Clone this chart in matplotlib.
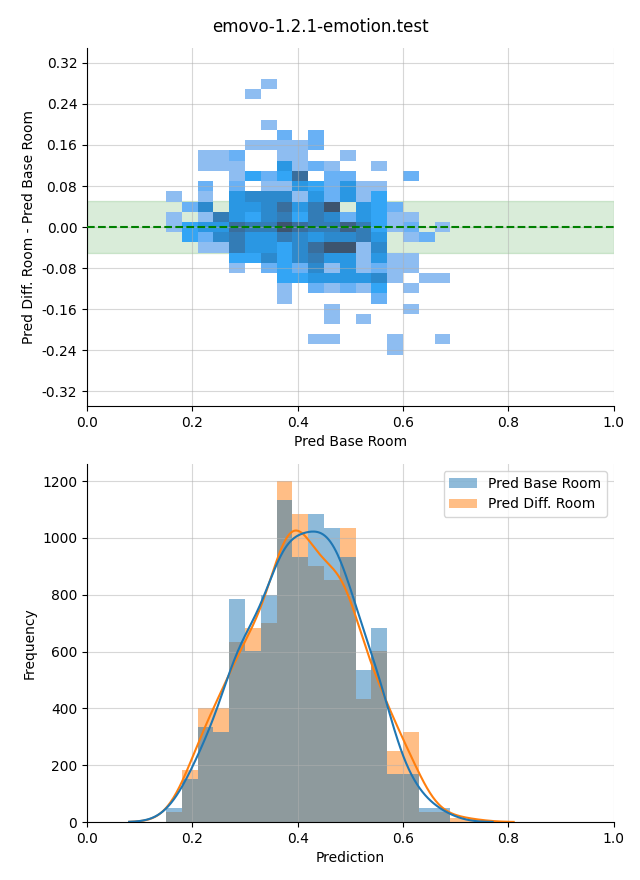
import numpy as np
import matplotlib
matplotlib.use("Agg")
import matplotlib.pyplot as plt
import matplotlib.colors as mcolors
from matplotlib.patches import Patch

title = "emovo-1.2.1-emotion.test"

# ---- shared x bins ----
bin_start = 0.150
bin_width = 0.030

# ---- bottom histogram counts (per bin) ----
base_counts = [49, 151, 334, 317, 785, 602, 799, 1134, 934, 1084, 1035, 934, 535, 683, 170, 170, 49, 49, 0, 0]
diff_counts = [35, 183, 401, 401, 634, 683, 700, 1200, 1084, 902, 853, 1035, 434, 602, 250, 317, 35, 35, 15, 12]
base_kde_range = (0.08, 0.77)
diff_kde_range = (0.08, 0.81)
kde_bw = 0.033

# ---- top 2D histogram (rows from +14 down to -12, 18 columns) ----
diff_bin_height = 0.0199
row_top = 14
counts_2d = [
    [0,0,0,0,0,0,1,0,0,0,0,0,0,0,0,0,0,0],  # 14
    [0,0,0,0,0,1,0,0,0,0,0,0,0,0,0,0,0,0],  # 13
    [0,0,0,0,0,0,0,0,0,0,0,0,0,0,0,0,0,0],  # 12
    [0,0,0,0,0,0,0,0,0,0,0,0,0,0,0,0,0,0],  # 11
    [0,0,0,0,0,0,1,0,0,0,0,0,0,0,0,0,0,0],  # 10
    [0,0,0,0,0,0,0,2,0,2,0,0,0,0,0,0,0,0],  # 9
    [0,0,0,0,0,1,1,1,1,2,0,0,0,0,0,0,0,0],  # 8
    [0,0,1,1,2,0,0,1,1,0,0,1,0,0,0,0,0,0],  # 7
    [0,0,1,1,1,0,0,4,1,2,1,0,0,1,0,0,0,0],  # 6
    [0,0,0,0,1,3,2,3,7,0,2,2,0,0,0,2,0,0],  # 5
    [0,0,2,0,2,0,1,1,4,3,2,4,1,1,0,0,0,0],  # 4
    [1,0,1,0,4,5,5,5,1,4,2,4,1,3,0,0,0,0],  # 3
    [0,2,5,0,4,4,5,7,4,6,9,0,4,3,2,0,0,0],  # 2
    [1,0,1,6,4,3,5,6,3,6,5,2,4,3,1,1,0,0],  # 1
    [1,3,4,4,7,6,6,9,7,6,6,8,6,3,1,2,0,1],  # 0
    [0,3,2,5,6,4,4,6,5,4,5,5,6,4,0,1,2,0],  # -1
    [0,0,1,1,6,4,4,3,5,7,9,9,1,5,0,0,0,0],  # -2
    [0,0,0,0,3,3,5,3,5,6,4,4,1,4,1,1,0,0],  # -3
    [0,0,0,0,1,0,2,3,2,5,1,4,1,2,1,1,0,0],  # -4
    [0,0,0,0,0,0,0,3,3,4,4,4,4,5,1,0,1,1],  # -5
    [0,0,0,0,0,0,0,1,0,2,1,2,1,3,0,1,0,0],  # -6
    [0,0,0,0,0,0,0,1,0,0,0,0,0,2,0,0,0,0],  # -7
    [0,0,0,0,0,0,0,0,0,0,1,0,0,0,0,1,0,0],  # -8
    [0,0,0,0,0,0,0,0,0,0,1,0,1,0,0,0,0,0],  # -9
    [0,0,0,0,0,0,0,0,0,0,0,0,0,0,0,0,0,0],  # -10
    [0,0,0,0,0,0,0,0,0,1,1,0,0,0,1,0,0,1],  # -11
    [0,0,0,0,0,0,0,0,0,0,0,0,0,0,1,0,0,0],  # -12
]

band_half = 0.05
x_label_top = "Pred Base Room"
y_label_top = "Pred Diff. Room - Pred Base Room"
x_label_bottom = "Prediction"
y_label_bottom = "Frequency"
legend_labels = ["Pred Base Room", "Pred Diff. Room"]

C0 = "#1f77b4"
C1 = "#ff7f0e"


def cmap_from_color(color):
    try:
        from seaborn.external import husl
        r, g, b, _ = mcolors.to_rgba(color)
        h, s, _ = husl.rgb_to_husl(r, g, b)
        xx = np.linspace(-1, 1, int(1.15 * 256))[:256]
        ramp = np.zeros((256, 3))
        ramp[:, 0] = h
        ramp[:, 1] = s * np.cos(xx)
        ramp[:, 2] = np.linspace(35, 80, 256)
        cols = np.clip([husl.husl_to_rgb(*hsl) for hsl in ramp], 0, 1)
        return mcolors.ListedColormap(cols[::-1])
    except Exception:
        return mcolors.LinearSegmentedColormap.from_list("c", ["#a8c8ee", "#2e9ef0", "#3d4f6a"])


fig = plt.figure(figsize=(6.4, 8.8), dpi=100)
fig.suptitle(title, y=0.969, va="center", fontsize=12)

# ---------------- top ----------------
ax1 = fig.add_axes([0.136, 0.5386, 0.823, 0.4068])
arr = np.array(counts_2d, dtype=float)[::-1]
n_rows, n_cols = arr.shape
x_edges = bin_start + bin_width * np.arange(n_cols + 1)
row_bottom = row_top - n_rows + 1
y_edges = (np.arange(row_bottom, row_top + 2) - 0.5) * diff_bin_height
masked = np.ma.masked_less_equal(arr, 0)
ax1.axhspan(-band_half, band_half, color="green", alpha=0.15, zorder=0.5)
ax1.pcolormesh(x_edges, y_edges, masked, cmap=cmap_from_color(C0),
               vmin=0, vmax=arr.max(), zorder=1)
ax1.axhline(0, color="green", linestyle="--", linewidth=1.5, zorder=3)
ax1.set_xlim(0, 1)
ax1.set_ylim(-0.349, 0.349)
ax1.set_yticks(np.round(np.arange(-0.32, 0.33, 0.08), 2))
ax1.yaxis.set_major_formatter(matplotlib.ticker.FormatStrFormatter("%.2f"))
ax1.grid(True, alpha=0.5)
ax1.set_xlabel(x_label_top)
ax1.set_ylabel(y_label_top)
for sp in ("top", "right"):
    ax1.spines[sp].set_visible(False)

# ---------------- bottom ----------------
ax2 = fig.add_axes([0.136, 0.0659, 0.823, 0.4068])
nb = len(base_counts)
edges = bin_start + bin_width * np.arange(nb + 1)
centers = edges[:-1] + bin_width / 2

ax2.bar(centers, diff_counts, width=bin_width, color=C1, alpha=0.5, linewidth=0)
ax2.bar(centers, base_counts, width=bin_width, color=C0, alpha=0.5, linewidth=0)


def kde_curve(counts, rng):
    w = np.asarray(counts, float)
    xs = np.linspace(rng[0], rng[1], 400)
    dens = np.zeros_like(xs)
    for c, wi in zip(centers, w):
        dens += wi * np.exp(-0.5 * ((xs - c) / kde_bw) ** 2) / (kde_bw * np.sqrt(2 * np.pi))
    dens /= w.sum()
    return xs, dens * w.sum() * bin_width


xs, ys = kde_curve(diff_counts, diff_kde_range)
ax2.plot(xs, ys, color=C1, linewidth=1.5)
xs, ys = kde_curve(base_counts, base_kde_range)
ax2.plot(xs, ys, color=C0, linewidth=1.5)

ax2.set_xlim(0, 1)
ax2.set_ylim(0, 1260)
ax2.grid(True, alpha=0.5)
ax2.set_xlabel(x_label_bottom)
ax2.set_ylabel(y_label_bottom)
for sp in ("top", "right"):
    ax2.spines[sp].set_visible(False)
handles = [Patch(facecolor=C0, alpha=0.5), Patch(facecolor=C1, alpha=0.5)]
ax2.legend(handles, legend_labels, loc="upper right")

fig.savefig("out.png", dpi=100)
